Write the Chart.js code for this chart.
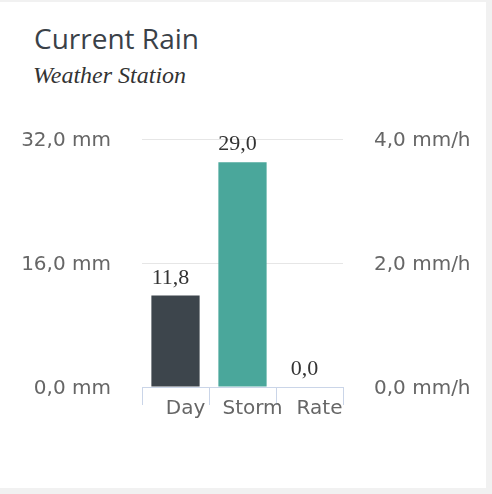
<!DOCTYPE html>
<html>
<head>
<meta charset="utf-8">
<script src="https://cdn.jsdelivr.net/npm/chart.js@4/dist/chart.umd.min.js"></script>
<style>
    body { margin: 0; background: #f1f1f1; width: 492px; height: 494px; overflow: hidden; }
    .card { position: absolute; left: 0; top: 2px; width: 486px; height: 486px; background: #fff; }
    .title { position: absolute; left: 34px; top: 17px; font: 28px 'Open Sans', sans-serif; color: #3a4148; white-space: nowrap; }
    .subtitle { position: absolute; left: 33px; top: 60px; font: italic 24px 'Liberation Serif', serif; color: #333; white-space: nowrap; }
    .chart { position: absolute; left: 0; top: 94px; width: 486px; height: 334px; }
</style>
</head>
<body>
<div class="card">
    <div class="title">Current Rain</div>
    <div class="subtitle">Weather Station</div>
    <div class="chart"><canvas id="rain"></canvas></div>
</div>
<script>
const categories = ['Day', 'Storm', 'Rate']
const rainMm = [11.8, 29.0, null]
const rateMmH = [null, null, 0.0]
const mmTicks = [0, 16, 32]
const rateTicks = [0, 2, 4]

const fmt = v => v.toFixed(1).replace('.', ',')

// simple value labels above each bar (no datalabels plugin offline)
const valueLabels = {
    id: 'valueLabels',
    afterDatasetsDraw(chart) {
        const ctx = chart.ctx
        ctx.save()
        ctx.font = '22px "Liberation Serif", serif'
        ctx.fillStyle = '#333'
        ctx.textAlign = 'center'
        ctx.textBaseline = 'alphabetic'
        chart.data.datasets.forEach((ds, i) => {
            chart.getDatasetMeta(i).data.forEach((bar, j) => {
                const v = ds.data[j]
                if (v === null || v === undefined) return
                ctx.fillText(fmt(v), bar.x - 5, bar.y - 12)
            })
        })
        ctx.restore()
    },
}

const axisFont = { family: 'DejaVu Sans', size: 20 }

new Chart(document.getElementById('rain'), {
    type: 'bar',
    data: {
        labels: categories,
        datasets: [
            {
                label: 'Rain',
                data: rainMm,
                backgroundColor: ['#3d454c', '#4aa79b', '#4aa79b'],
                yAxisID: 'y',
                grouped: false,
            },
            {
                label: 'Rate',
                data: rateMmH,
                backgroundColor: '#e0a040',
                yAxisID: 'y1',
                grouped: false,
            },
        ],
    },
    options: {
        responsive: true,
        maintainAspectRatio: false,
        animation: false,
        layout: { padding: { left: 16, right: 16, top: 16, bottom: 0 } },
        plugins: {
            legend: { display: false },
            tooltip: { enabled: false },
        },
        scales: {
            x: {
                afterFit: s => { s.height += 10 },
                grid: { drawOnChartArea: false, tickLength: 18, color: '#cad5e8' },
                border: { color: '#cad5e8' },
                ticks: { color: '#666', font: axisFont, padding: -8, labelOffset: 10 },
            },
            y: {
                position: 'left',
                min: mmTicks[0],
                max: mmTicks[mmTicks.length - 1],
                afterBuildTicks: s => { s.ticks = mmTicks.map(v => ({ value: v })) },
                afterFit: s => { s.width = 126 },
                grid: { color: '#e6e6e6', drawTicks: false },
                border: { display: false },
                ticks: { color: '#666', font: axisFont, padding: 31, labelOffset: 2, callback: v => fmt(v) + ' mm' },
            },
            y1: {
                position: 'right',
                min: rateTicks[0],
                max: rateTicks[rateTicks.length - 1],
                afterBuildTicks: s => { s.ticks = rateTicks.map(v => ({ value: v })) },
                afterFit: s => { s.width = 127 },
                grid: { display: false, drawTicks: false },
                border: { display: false },
                ticks: { color: '#666', font: axisFont, padding: 31, labelOffset: 2, callback: v => fmt(v) + ' mm/h' },
            },
        },
    },
    plugins: [valueLabels],
})
</script>
</body>
</html>
